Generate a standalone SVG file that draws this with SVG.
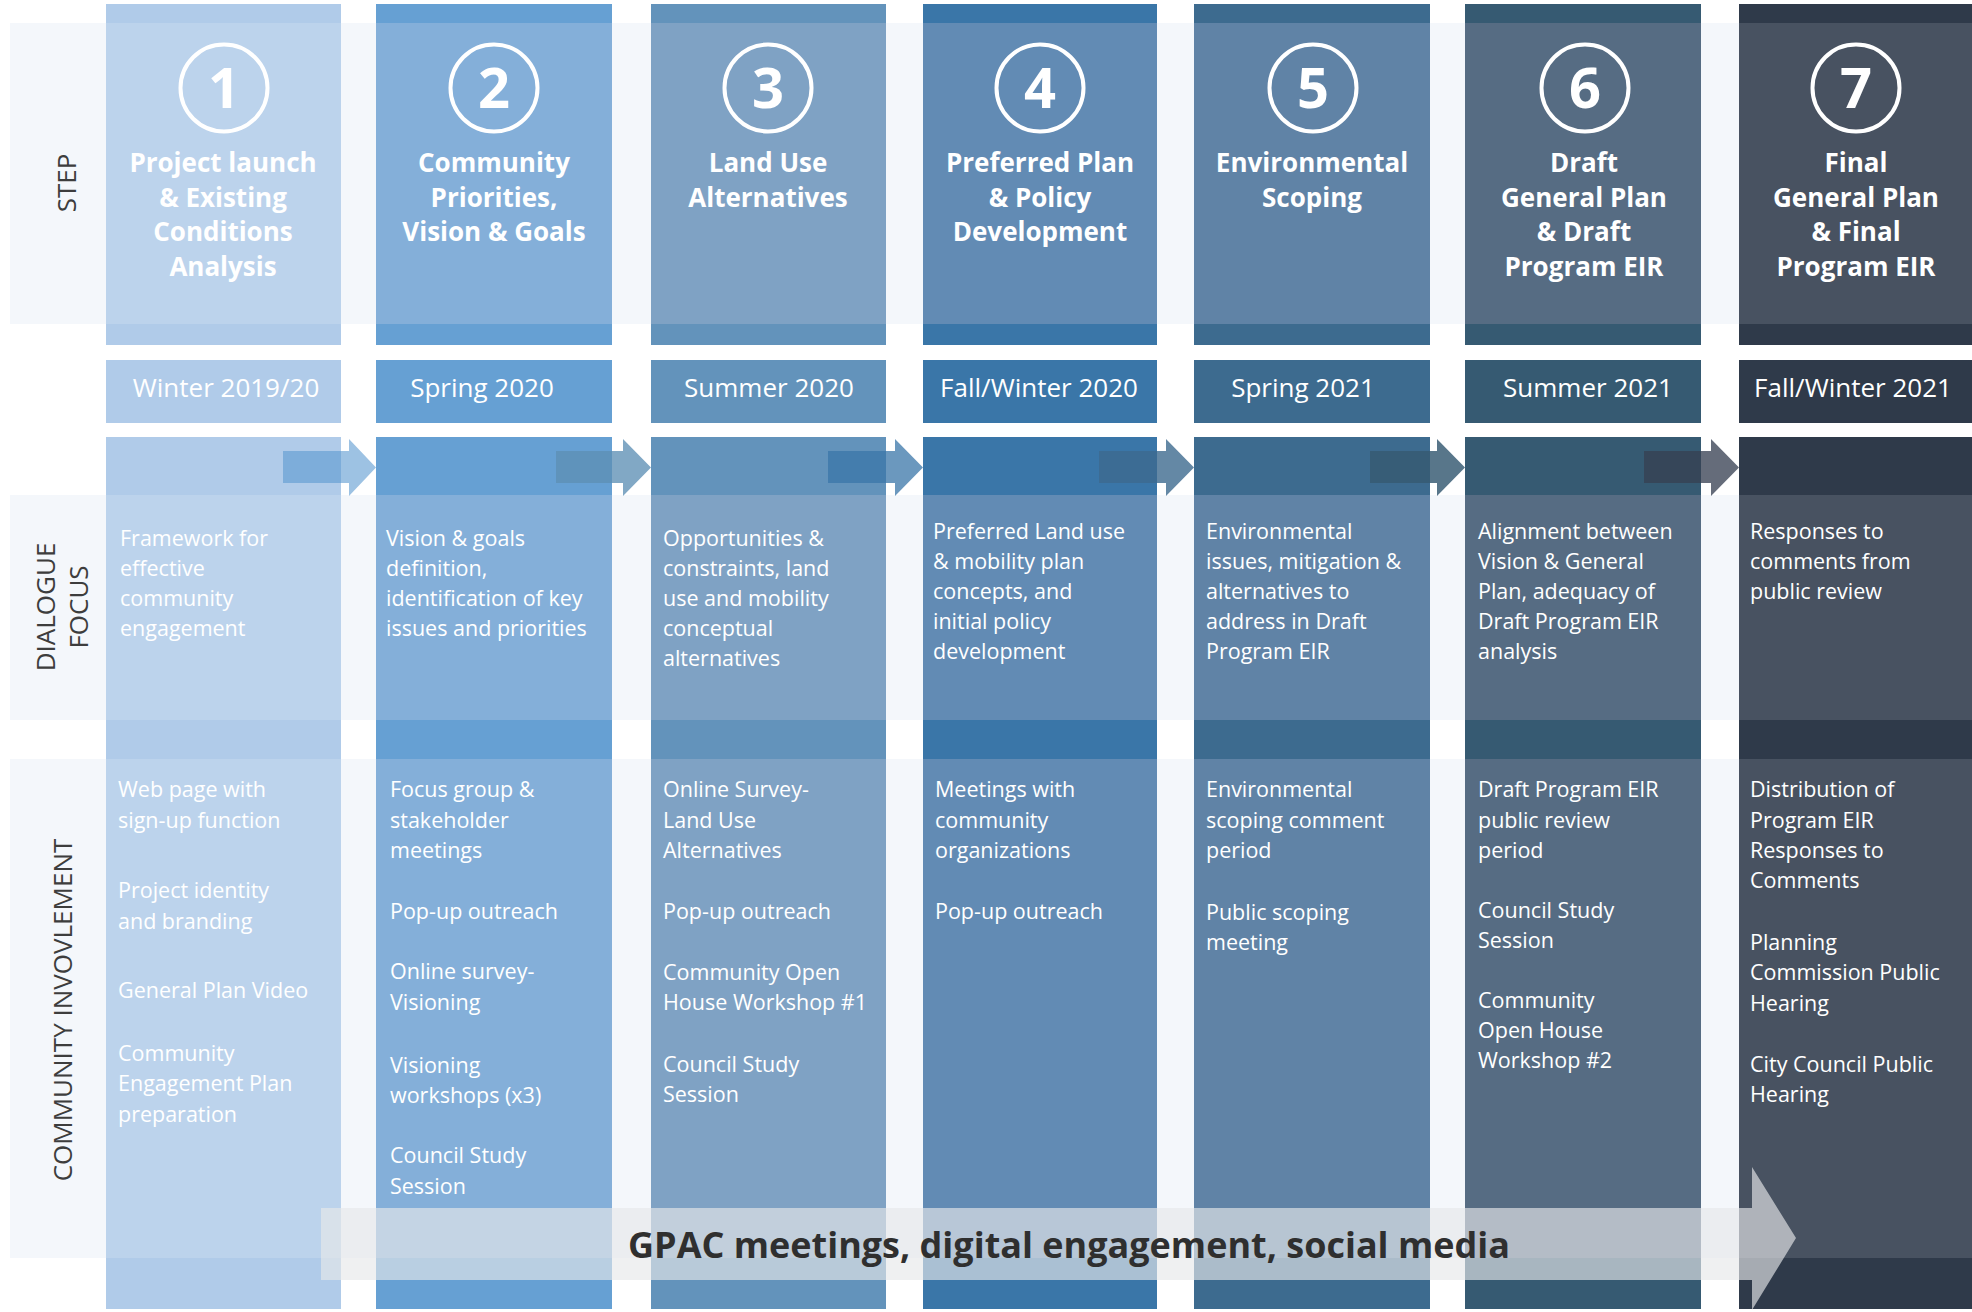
<svg xmlns="http://www.w3.org/2000/svg" width="1972" height="1312" viewBox="0 0 1972 1312">
<style>
text { font-family: "Open Sans", "Liberation Sans", sans-serif; }
.lbl { font-size: 26px; fill: #3d3d3d; text-anchor: middle; }
.num { font-size: 56px; font-weight: bold; fill: #ffffff; text-anchor: middle; }
.ttl { font-size: 26px; font-weight: bold; fill: #ffffff; text-anchor: middle; }
.date { font-size: 26px; fill: #ffffff; text-anchor: middle; }
.txt { font-size: 21.5px; fill: #ffffff; }
.ring { fill: none; stroke: #ffffff; stroke-width: 4; }
.band { fill: #f4f7fb; }
.c1 { fill: #b0cbe9; } .b1 { fill: #bcd3ec; }
.c2 { fill: #66a0d3; } .b2 { fill: #84afd9; }
.c3 { fill: #6393bb; } .b3 { fill: #7fa2c4; }
.c4 { fill: #3a76a8; } .b4 { fill: #628bb4; }
.c5 { fill: #3d6b8f; } .b5 { fill: #6083a6; }
.c6 { fill: #365a72; } .b6 { fill: #566c83; }
.c7 { fill: #2f3a4a; } .b7 { fill: #485261; }
.gpac { fill: #e6e8ea; opacity: 0.65; }
.gpactxt { font-size: 35px; font-weight: bold; fill: #2f2f2f; text-anchor: middle; }
</style>
<rect width="1972" height="1312" fill="#ffffff"/>
<g id="bands">
  <rect class="band" x="10" y="23" width="1962" height="301"/>
  <rect class="band" x="10" y="495" width="1962" height="225"/>
  <rect class="band" x="10" y="759" width="1962" height="499"/>
</g>
<g id="row-labels">
  <text class="lbl" transform="translate(76,183) rotate(-90)">STEP</text>
  <text class="lbl" transform="translate(55,607) rotate(-90)">DIALOGUE</text>
  <text class="lbl" transform="translate(88,607) rotate(-90)">FOCUS</text>
  <text class="lbl" transform="translate(72,1010) rotate(-90)">COMMUNITY INVOVLEMENT</text>
</g>

<g id="step-1">
  <rect class="c1" x="106" y="4" width="235" height="341"/>
  <rect class="b1" x="106" y="23" width="235" height="301"/>
  <rect class="c1" x="106" y="360" width="235" height="63"/>
  <rect class="c1" x="106" y="437" width="235" height="872"/>
  <rect class="b1" x="106" y="495" width="235" height="225"/>
  <rect class="b1" x="106" y="759" width="235" height="499"/>
</g>
<g id="step-2">
  <rect class="c2" x="376" y="4" width="236" height="341"/>
  <rect class="b2" x="376" y="23" width="236" height="301"/>
  <rect class="c2" x="376" y="360" width="236" height="63"/>
  <rect class="c2" x="376" y="437" width="236" height="872"/>
  <rect class="b2" x="376" y="495" width="236" height="225"/>
  <rect class="b2" x="376" y="759" width="236" height="499"/>
</g>
<g id="step-3">
  <rect class="c3" x="651" y="4" width="235" height="341"/>
  <rect class="b3" x="651" y="23" width="235" height="301"/>
  <rect class="c3" x="651" y="360" width="235" height="63"/>
  <rect class="c3" x="651" y="437" width="235" height="872"/>
  <rect class="b3" x="651" y="495" width="235" height="225"/>
  <rect class="b3" x="651" y="759" width="235" height="499"/>
</g>
<g id="step-4">
  <rect class="c4" x="923" y="4" width="234" height="341"/>
  <rect class="b4" x="923" y="23" width="234" height="301"/>
  <rect class="c4" x="923" y="360" width="234" height="63"/>
  <rect class="c4" x="923" y="437" width="234" height="872"/>
  <rect class="b4" x="923" y="495" width="234" height="225"/>
  <rect class="b4" x="923" y="759" width="234" height="499"/>
</g>
<g id="step-5">
  <rect class="c5" x="1194" y="4" width="236" height="341"/>
  <rect class="b5" x="1194" y="23" width="236" height="301"/>
  <rect class="c5" x="1194" y="360" width="236" height="63"/>
  <rect class="c5" x="1194" y="437" width="236" height="872"/>
  <rect class="b5" x="1194" y="495" width="236" height="225"/>
  <rect class="b5" x="1194" y="759" width="236" height="499"/>
</g>
<g id="step-6">
  <rect class="c6" x="1465" y="4" width="236" height="341"/>
  <rect class="b6" x="1465" y="23" width="236" height="301"/>
  <rect class="c6" x="1465" y="360" width="236" height="63"/>
  <rect class="c6" x="1465" y="437" width="236" height="872"/>
  <rect class="b6" x="1465" y="495" width="236" height="225"/>
  <rect class="b6" x="1465" y="759" width="236" height="499"/>
</g>
<g id="step-7">
  <rect class="c7" x="1739" y="4" width="233" height="341"/>
  <rect class="b7" x="1739" y="23" width="233" height="301"/>
  <rect class="c7" x="1739" y="360" width="233" height="63"/>
  <rect class="c7" x="1739" y="437" width="233" height="872"/>
  <rect class="b7" x="1739" y="495" width="233" height="225"/>
  <rect class="b7" x="1739" y="759" width="233" height="499"/>
</g>

<g id="connectors">
  <path d="M283,451 H349 V439 L376,467.5 L349,496 V483 H283 Z" fill="#5c99d1" opacity="0.6"/>
  <path d="M556,451 H623 V439 L651,467.5 L623,496 V483 H556 Z" fill="#5d8fb5" opacity="0.78"/>
  <path d="M828,451 H895 V439 L923,467.5 L895,496 V483 H828 Z" fill="#3a76a8" opacity="0.75"/>
  <path d="M1099,451 H1166 V439 L1194,467.5 L1166,496 V483 H1099 Z" fill="#3d6a8f" opacity="0.8"/>
  <path d="M1370,451 H1437 V439 L1465,467.5 L1437,496 V483 H1370 Z" fill="#365a72" opacity="0.83"/>
  <path d="M1644,451 H1711 V439 L1739,467.5 L1711,496 V483 H1644 Z" fill="#374052" opacity="0.77"/>
</g>

<g id="step-1-text">
  <circle class="ring" cx="224" cy="88" r="43.5"/>
  <text class="num" x="224" y="108">1</text>
  <text class="ttl"><tspan x="223" y="172">Project launch</tspan><tspan x="223" y="206.7">&amp; Existing</tspan><tspan x="223" y="241.4">Conditions</tspan><tspan x="223" y="276">Analysis</tspan></text>
  <text class="date" x="226" y="397">Winter 2019/20</text>
  <text class="txt"><tspan x="120" y="546">Framework for</tspan><tspan x="120" y="576">effective</tspan><tspan x="120" y="606">community</tspan><tspan x="120" y="636">engagement</tspan></text>
  <text class="txt"><tspan x="118" y="797">Web page with</tspan><tspan x="118" y="828">sign-up function</tspan><tspan x="118" y="898">Project identity</tspan><tspan x="118" y="929">and branding</tspan><tspan x="118" y="998">General Plan Video</tspan><tspan x="118" y="1061">Community</tspan><tspan x="118" y="1091">Engagement Plan</tspan><tspan x="118" y="1122">preparation</tspan></text>
</g>
<g id="step-2-text">
  <circle class="ring" cx="494" cy="88" r="43.5"/>
  <text class="num" x="494" y="108">2</text>
  <text class="ttl"><tspan x="494" y="172">Community</tspan><tspan x="494" y="206.7">Priorities,</tspan><tspan x="494" y="241.4">Vision &amp; Goals</tspan></text>
  <text class="date" x="482" y="397">Spring 2020</text>
  <text class="txt"><tspan x="386" y="546">Vision &amp; goals</tspan><tspan x="386" y="576">definition,</tspan><tspan x="386" y="606">identification of key</tspan><tspan x="386" y="636">issues and priorities</tspan></text>
  <text class="txt"><tspan x="390" y="797">Focus group &amp;</tspan><tspan x="390" y="828">stakeholder</tspan><tspan x="390" y="858">meetings</tspan><tspan x="390" y="919">Pop-up outreach</tspan><tspan x="390" y="979">Online survey-</tspan><tspan x="390" y="1010">Visioning</tspan><tspan x="390" y="1073">Visioning</tspan><tspan x="390" y="1103">workshops (x3)</tspan><tspan x="390" y="1163">Council Study</tspan><tspan x="390" y="1194">Session</tspan></text>
</g>
<g id="step-3-text">
  <circle class="ring" cx="768" cy="88" r="43.5"/>
  <text class="num" x="768" y="108">3</text>
  <text class="ttl"><tspan x="768" y="172">Land Use</tspan><tspan x="768" y="206.7">Alternatives</tspan></text>
  <text class="date" x="769" y="397">Summer 2020</text>
  <text class="txt"><tspan x="663" y="546">Opportunities &amp;</tspan><tspan x="663" y="576">constraints, land</tspan><tspan x="663" y="606">use and mobility</tspan><tspan x="663" y="636">conceptual</tspan><tspan x="663" y="666">alternatives</tspan></text>
  <text class="txt"><tspan x="663" y="797">Online Survey-</tspan><tspan x="663" y="828">Land Use</tspan><tspan x="663" y="858">Alternatives</tspan><tspan x="663" y="919">Pop-up outreach</tspan><tspan x="663" y="980">Community Open</tspan><tspan x="663" y="1010">House Workshop #1</tspan><tspan x="663" y="1072">Council Study</tspan><tspan x="663" y="1102">Session</tspan></text>
</g>
<g id="step-4-text">
  <circle class="ring" cx="1040" cy="88" r="43.5"/>
  <text class="num" x="1040" y="108">4</text>
  <text class="ttl"><tspan x="1040" y="172">Preferred Plan</tspan><tspan x="1040" y="206.7">&amp; Policy</tspan><tspan x="1040" y="241">Development</tspan></text>
  <text class="date" x="1039" y="397">Fall/Winter 2020</text>
  <text class="txt"><tspan x="933" y="539">Preferred Land use</tspan><tspan x="933" y="569">&amp; mobility plan</tspan><tspan x="933" y="599">concepts, and</tspan><tspan x="933" y="629">initial policy</tspan><tspan x="933" y="659">development</tspan></text>
  <text class="txt"><tspan x="935" y="797">Meetings with</tspan><tspan x="935" y="828">community</tspan><tspan x="935" y="858">organizations</tspan><tspan x="935" y="919">Pop-up outreach</tspan></text>
</g>
<g id="step-5-text">
  <circle class="ring" cx="1313" cy="88" r="43.5"/>
  <text class="num" x="1313" y="108">5</text>
  <text class="ttl"><tspan x="1312" y="172">Environmental</tspan><tspan x="1312" y="206.7">Scoping</tspan></text>
  <text class="date" x="1303" y="397">Spring 2021</text>
  <text class="txt"><tspan x="1206" y="539">Environmental</tspan><tspan x="1206" y="569">issues, mitigation &amp;</tspan><tspan x="1206" y="599">alternatives to</tspan><tspan x="1206" y="629">address in Draft</tspan><tspan x="1206" y="659">Program EIR</tspan></text>
  <text class="txt"><tspan x="1206" y="797">Environmental</tspan><tspan x="1206" y="828">scoping comment</tspan><tspan x="1206" y="858">period</tspan><tspan x="1206" y="920">Public scoping</tspan><tspan x="1206" y="950">meeting</tspan></text>
</g>
<g id="step-6-text">
  <circle class="ring" cx="1585" cy="88" r="43.5"/>
  <text class="num" x="1585" y="108">6</text>
  <text class="ttl"><tspan x="1584" y="172">Draft</tspan><tspan x="1584" y="206.7">General Plan</tspan><tspan x="1584" y="241.4">&amp; Draft</tspan><tspan x="1584" y="276">Program EIR</tspan></text>
  <text class="date" x="1588" y="397">Summer 2021</text>
  <text class="txt"><tspan x="1478" y="539">Alignment between</tspan><tspan x="1478" y="569">Vision &amp; General</tspan><tspan x="1478" y="599">Plan, adequacy of</tspan><tspan x="1478" y="629">Draft Program EIR</tspan><tspan x="1478" y="659">analysis</tspan></text>
  <text class="txt"><tspan x="1478" y="797">Draft Program EIR</tspan><tspan x="1478" y="828">public review</tspan><tspan x="1478" y="858">period</tspan><tspan x="1478" y="918">Council Study</tspan><tspan x="1478" y="948">Session</tspan><tspan x="1478" y="1008">Community</tspan><tspan x="1478" y="1038">Open House</tspan><tspan x="1478" y="1068">Workshop #2</tspan></text>
</g>
<g id="step-7-text">
  <circle class="ring" cx="1856" cy="88" r="43.5"/>
  <text class="num" x="1856" y="108">7</text>
  <text class="ttl"><tspan x="1856" y="172">Final</tspan><tspan x="1856" y="206.7">General Plan</tspan><tspan x="1856" y="241.4">&amp; Final</tspan><tspan x="1856" y="276">Program EIR</tspan></text>
  <text class="date" x="1853" y="397">Fall/Winter 2021</text>
  <text class="txt"><tspan x="1750" y="539">Responses to</tspan><tspan x="1750" y="569">comments from</tspan><tspan x="1750" y="599">public review</tspan></text>
  <text class="txt"><tspan x="1750" y="797">Distribution of</tspan><tspan x="1750" y="828">Program EIR</tspan><tspan x="1750" y="858">Responses to</tspan><tspan x="1750" y="888">Comments</tspan><tspan x="1750" y="950">Planning</tspan><tspan x="1750" y="980">Commission Public</tspan><tspan x="1750" y="1011">Hearing</tspan><tspan x="1750" y="1072">City Council Public</tspan><tspan x="1750" y="1102">Hearing</tspan></text>
</g>

<g id="gpac-arrow">
  <path class="gpac" d="M321,1208 H1752 V1167 L1796,1238 L1752,1310 V1280 H321 Z"/>
  <text class="gpactxt" x="1069" y="1258" textLength="882" lengthAdjust="spacingAndGlyphs">GPAC meetings, digital engagement, social media</text>
</g>
</svg>
